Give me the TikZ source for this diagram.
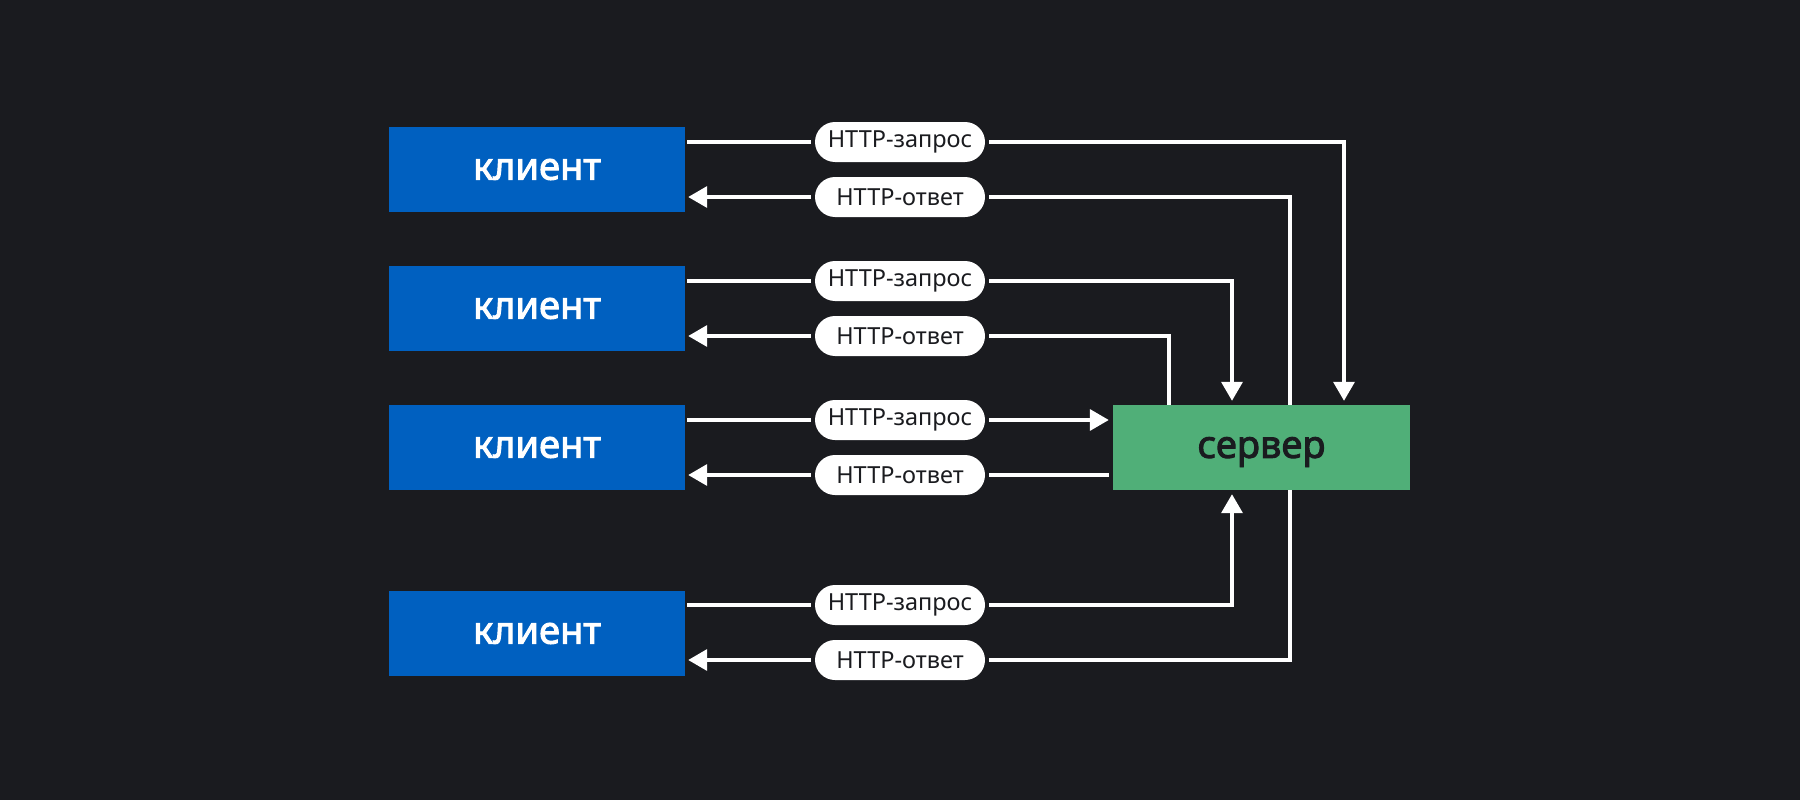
\documentclass[tikz,border=0pt]{standalone}
\usepackage{fontspec}
\setmainfont{Noto Sans}
\newfontfamily\labelfont{Noto Sans}[FakeBold=2.5]
\usetikzlibrary{arrows.meta}
\definecolor{bg}{HTML}{1A1B1F}
\definecolor{clientblue}{HTML}{0060C0}
\definecolor{servergreen}{HTML}{50AF78}
\tikzset{
	client/.style={fill=clientblue, text=white, minimum width=296pt, minimum height=85pt, inner sep=0pt, font=\labelfont\fontsize{38}{42}\selectfont},
	server/.style={fill=servergreen, text=bg, minimum width=297pt, minimum height=85pt, inner sep=0pt, text depth=0pt, font=\labelfont\fontsize{38}{42}\selectfont},
	msg/.style={fill=white, text=bg, rounded corners=20pt, minimum width=170pt, minimum height=40pt, inner sep=0pt, font=\fontsize{23.5}{26}\selectfont},
	link/.style={draw=white, line width=3.5pt},
	tip/.style={-{Triangle[length=19pt,width=21pt]}}
}
\begin{document}
\begin{tikzpicture}[x=1pt,y=-1pt]
			\fill[bg] (0,0) rectangle (1800,800);
			\useasboundingbox (0,0) rectangle (1800,800);
			% clients and server
			\node	(c1) at (537,169.5) [client] {клиент};
			\node	(c2) at (537,308.5) [client] {клиент};
			\node	(c3) at (537,447.5) [client] {клиент};
			\node	(c4) at (537,633.5) [client] {клиент};
			\node	(s) at (1261.5,447.5) [server] {сервер};
			% messages
			\node	(q1) at (900,142) [msg] {HTTP-запрос};
			\node	(a1) at (900,197) [msg] {HTTP-ответ};
			\node	(q2) at (900,281) [msg] {HTTP-запрос};
			\node	(a2) at (900,336) [msg] {HTTP-ответ};
			\node	(q3) at (900,420) [msg] {HTTP-запрос};
			\node	(a3) at (900,475) [msg] {HTTP-ответ};
			\node	(q4) at (900,605) [msg] {HTTP-запрос};
			\node	(a4) at (900,660) [msg] {HTTP-ответ};
			% bends
			\coordinate (k1) at (1344,142);
			\coordinate (r1) at (1290,197);
			\coordinate (k2) at (1232,281);
			\coordinate (r2) at (1169,336);
			\coordinate (k4) at (1232,605);
			\coordinate (r4) at (1290,660);
			% requests
			\draw[link, shorten <=2pt, shorten >=4pt] (c1.east |- q1) -- (q1.west);
			\draw[link, tip, shorten <=4pt, shorten >=4pt] (q1.east) -- (k1) -- (k1 |- s.north);
			\draw[link, shorten <=2pt, shorten >=4pt] (c2.east |- q2) -- (q2.west);
			\draw[link, tip, shorten <=4pt, shorten >=4pt] (q2.east) -- (k2) -- (k2 |- s.north);
			\draw[link, shorten <=2pt, shorten >=4pt] (c3.east |- q3) -- (q3.west);
			\draw[link, tip, shorten <=4pt, shorten >=4pt] (q3.east) -- (s.west |- q3);
			\draw[link, shorten <=2pt, shorten >=4pt] (c4.east |- q4) -- (q4.west);
			\draw[link, tip, shorten <=4pt, shorten >=4pt] (q4.east) -- (k4) -- (k4 |- s.south);
			% responses
			\draw[link, shorten >=4pt] (r1 |- s.north) -- (r1) -- (a1.east);
			\draw[link, tip, shorten <=4pt, shorten >=3pt] (a1.west) -- (c1.east |- a1);
			\draw[link, shorten >=4pt] (r2 |- s.north) -- (r2) -- (a2.east);
			\draw[link, tip, shorten <=4pt, shorten >=3pt] (a2.west) -- (c2.east |- a2);
			\draw[link, shorten <=4pt, shorten >=4pt] (s.west |- a3) -- (a3.east);
			\draw[link, tip, shorten <=4pt, shorten >=3pt] (a3.west) -- (c3.east |- a3);
			\draw[link, shorten >=4pt] (r4 |- s.south) -- (r4) -- (a4.east);
			\draw[link, tip, shorten <=4pt, shorten >=3pt] (a4.west) -- (c4.east |- a4);
\end{tikzpicture}
\end{document}
